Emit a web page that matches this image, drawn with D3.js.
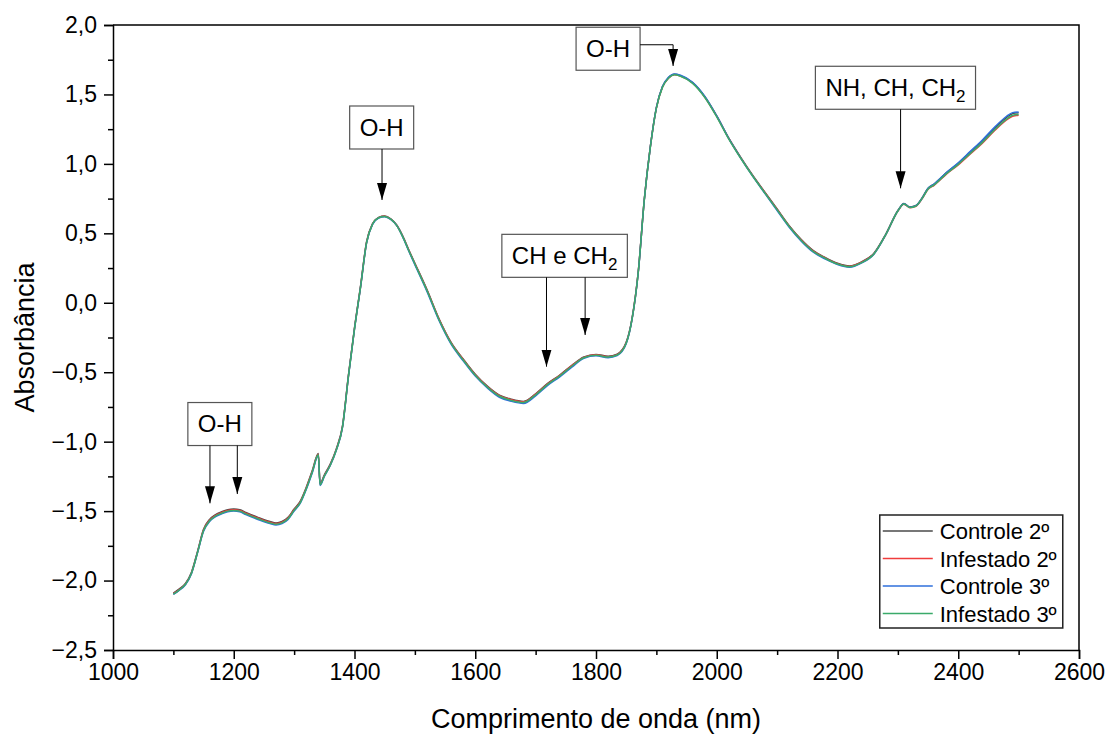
<!DOCTYPE html>
<html>
<head>
<meta charset="utf-8">
<script src="https://cdn.jsdelivr.net/npm/d3@7"></script>
<style>
  body { margin: 0; background: #fff; }
  svg { font-family: Arial, "Liberation Sans", sans-serif; }
</style>
</head>
<body>
<div id="canvas"></div>
<script>
// wavelength (nm)
const wl = [
  1100,1110,1120,1130,1140,1150,1160,1170,1180,1190,
  1200,1210,1220,1240,1260,1270,1280,1290,1300,1310,
  1320,1330,1340,1343,1350,1360,1370,1380,1390,1400,
  1410,1420,1430,1440,1450,1460,1470,1480,1490,1500,
  1520,1540,1560,1580,1600,1620,1640,1660,1680,1700,
  1720,1740,1760,1780,1800,1820,1835,1850,1860,1870,
  1880,1890,1900,1910,1920,1930,1940,1960,1980,2000,
  2020,2040,2060,2080,2100,2120,2140,2160,2180,2200,
  2220,2240,2260,2280,2300,2310,2320,2330,2340,2350,
  2360,2380,2400,2420,2440,2460,2480,2490,2500
];

const controle2 = [
  -2.09,-2.06,-2.02,-1.94,-1.79,-1.63,-1.56,-1.525,-1.505,-1.49,
  -1.485,-1.49,-1.51,-1.545,-1.575,-1.585,-1.575,-1.545,-1.485,-1.43,
  -1.33,-1.21,-1.085,-1.30,-1.24,-1.16,-1.05,-0.89,-0.52,-0.18,
  0.12,0.44,0.57,0.615,0.625,0.605,0.56,0.48,0.38,0.285,
  0.095,-0.115,-0.285,-0.405,-0.515,-0.60,-0.665,-0.695,-0.71,-0.655,
  -0.58,-0.52,-0.45,-0.39,-0.372,-0.385,-0.37,-0.285,-0.105,0.225,
  0.745,1.125,1.405,1.555,1.62,1.645,1.635,1.585,1.485,1.345,
  1.185,1.045,0.915,0.795,0.675,0.555,0.455,0.375,0.325,0.285,
  0.265,0.295,0.355,0.495,0.665,0.715,0.69,0.70,0.755,0.825,
  0.855,0.935,1.005,1.085,1.165,1.255,1.335,1.362,1.368
];

const infestado2 = [
  -2.095,-2.065,-2.025,-1.945,-1.795,-1.635,-1.565,-1.53,-1.51,-1.495,
  -1.49,-1.495,-1.515,-1.55,-1.58,-1.59,-1.58,-1.55,-1.49,-1.435,
  -1.335,-1.215,-1.09,-1.305,-1.245,-1.165,-1.055,-0.895,-0.525,-0.185,
  0.115,0.435,0.568,0.613,0.623,0.603,0.557,0.477,0.377,0.282,
  0.092,-0.118,-0.288,-0.408,-0.518,-0.603,-0.668,-0.698,-0.713,-0.658,
  -0.583,-0.523,-0.453,-0.393,-0.375,-0.388,-0.373,-0.288,-0.108,0.222,
  0.742,1.122,1.402,1.552,1.617,1.642,1.632,1.582,1.482,1.342,
  1.182,1.042,0.912,0.792,0.672,0.552,0.452,0.372,0.322,0.282,
  0.262,0.292,0.352,0.49,0.66,0.71,0.685,0.695,0.748,0.818,
  0.846,0.925,0.993,1.071,1.149,1.238,1.316,1.343,1.350
];

const controle3 = [
  -2.10,-2.07,-2.03,-1.95,-1.80,-1.645,-1.575,-1.54,-1.52,-1.505,
  -1.50,-1.505,-1.525,-1.56,-1.59,-1.60,-1.59,-1.56,-1.50,-1.445,
  -1.345,-1.225,-1.10,-1.315,-1.25,-1.17,-1.06,-0.90,-0.53,-0.19,
  0.11,0.43,0.565,0.61,0.62,0.60,0.555,0.473,0.371,0.274,
  0.082,-0.128,-0.298,-0.418,-0.528,-0.613,-0.68,-0.71,-0.725,-0.67,
  -0.595,-0.533,-0.463,-0.40,-0.382,-0.395,-0.38,-0.295,-0.113,0.218,
  0.74,1.122,1.405,1.557,1.623,1.648,1.638,1.588,1.488,1.345,
  1.182,1.04,0.908,0.786,0.664,0.544,0.444,0.364,0.314,0.275,
  0.256,0.287,0.348,0.49,0.662,0.713,0.688,0.699,0.752,0.824,
  0.855,0.936,1.008,1.09,1.172,1.263,1.343,1.369,1.374
];

const infestado3 = [
  -2.098,-2.067,-2.027,-1.947,-1.798,-1.64,-1.57,-1.535,-1.515,-1.50,
  -1.495,-1.50,-1.52,-1.555,-1.585,-1.595,-1.585,-1.555,-1.495,-1.44,
  -1.34,-1.22,-1.095,-1.31,-1.248,-1.168,-1.058,-0.898,-0.528,-0.188,
  0.113,0.433,0.567,0.612,0.622,0.602,0.556,0.475,0.375,0.279,
  0.088,-0.122,-0.292,-0.412,-0.522,-0.607,-0.673,-0.703,-0.718,-0.663,
  -0.588,-0.527,-0.457,-0.396,-0.378,-0.391,-0.376,-0.291,-0.11,0.22,
  0.742,1.121,1.401,1.551,1.616,1.641,1.631,1.58,1.48,1.339,
  1.179,1.039,0.909,0.789,0.669,0.549,0.449,0.369,0.319,0.279,
  0.259,0.289,0.35,0.491,0.661,0.711,0.686,0.697,0.75,0.82,
  0.849,0.928,0.997,1.076,1.155,1.244,1.323,1.35,1.356
];

const seriesNames = ["Controle 2º", "Infestado 2º", "Controle 3º", "Infestado 3º"];
const seriesValues = [controle2, infestado2, controle3, infestado3];
const seriesColors = ["#4a4a4a", "#f03c3c", "#2f6fdb", "#3aaa6a"];

const xTicks = [1000, 1200, 1400, 1600, 1800, 2000, 2200, 2400, 2600];
const yTicks = [-2.5, -2.0, -1.5, -1.0, -0.5, 0.0, 0.5, 1.0, 1.5, 2.0];

// annotation labels: box centre (nm, abs) and arrow targets (nm, tip abs)
const annLabels = ["O-H", "O-H", "CH e CH|2", "O-H", "NH, CH, CH|2"];
const annBoxX = [1177, 1445, 1748, 1820, 2296];
const annBoxY = [-0.873, 1.262, 0.338, 1.829, 1.548];
const annArrows = [
  [[1160.6, -1.444], [1205.9, -1.377]],
  [[1445.6, 0.74]],
  [[1718, -0.46], [1782, -0.232]],
  [[1927.7, 1.705]],
  [[2304.5, 0.824]]
];

function drawChart() {
  const width = 1107, height = 737;
  const margin = { top: 25, left: 113, bottom: 87, right: 28 };
  const iwidth = width - margin.left - margin.right;
  const iheight = height - margin.top - margin.bottom;

  const svg = d3.select("#canvas").append("svg")
    .attr("width", width).attr("height", height);

  svg.append("defs").append("marker")
    .attr("id", "arrow")
    .attr("viewBox", "0 0 17 20")
    .attr("refX", 17).attr("refY", 10)
    .attr("markerWidth", 17).attr("markerHeight", 20)
    .attr("markerUnits", "userSpaceOnUse")
    .attr("orient", "auto")
    .append("path").attr("d", "M0,5 L17,10 L0,15 Z").attr("fill", "#000");

  const g = svg.append("g").attr("transform", `translate(${margin.left},${margin.top})`);

  const x = d3.scaleLinear().domain([1000, 2600]).range([0, iwidth]);
  const y = d3.scaleLinear().domain([-2.5, 2.0]).range([iheight, 0]);

  const fmtY = (d) => d3.format(".1f")(d).replace(".", ",").replace("-", "\u2212");

  // minor ticks
  const xMinor = d3.range(1100, 2600, 200);
  const yMinor = d3.range(-2.25, 2.0, 0.5);

  const xAxis = g.append("g").attr("transform", `translate(0,${iheight})`)
    .call(d3.axisBottom(x).tickValues(xTicks).tickFormat(d3.format("d")).tickSize(9).tickPadding(5));
  g.append("g").attr("transform", `translate(0,${iheight})`)
    .call(d3.axisBottom(x).tickValues(xMinor).tickFormat("").tickSize(5))
    .select(".domain").remove();

  const yAxis = g.append("g")
    .call(d3.axisLeft(y).tickValues(yTicks).tickFormat(fmtY).tickSize(9).tickPadding(7));
  g.append("g")
    .call(d3.axisLeft(y).tickValues(yMinor).tickFormat("").tickSize(5))
    .select(".domain").remove();

  g.selectAll(".tick line").attr("stroke", "#000").attr("stroke-width", 1.5);
  g.selectAll(".domain").attr("stroke", "#000").attr("stroke-width", 1.5);
  xAxis.selectAll("text").attr("font-size", 23).attr("fill", "#000");
  yAxis.selectAll("text").attr("font-size", 23).attr("fill", "#000");

  // top and right border
  g.append("path")
    .attr("d", `M0,0 H${iwidth} V${iheight}`)
    .attr("fill", "none").attr("stroke", "#000").attr("stroke-width", 1.5);

  // lines
  const line = d3.line()
    .x((d, i) => x(wl[i]))
    .y((d) => y(d))
    .curve(d3.curveMonotoneX);

  seriesValues.forEach((vals, k) => {
    g.append("path")
      .datum(vals)
      .attr("d", line)
      .attr("fill", "none")
      .attr("stroke", seriesColors[k])
      .attr("stroke-width", 1.5);
  });

  // annotations
  annLabels.forEach((lab, i) => {
    const cx = x(annBoxX[i]), cy = y(annBoxY[i]);
    const ag = g.append("g");
    const parts = lab.split("|");
    const t = ag.append("text")
      .attr("x", cx).attr("y", cy + 8)
      .attr("text-anchor", "middle")
      .attr("font-size", 24);
    t.append("tspan").text(parts[0]);
    if (parts[1]) {
      t.append("tspan").attr("font-size", 17).attr("dy", 6).text(parts[1]);
    }
    const bb = t.node().getBBox();
    const bw = bb.width + 20, bh = 43;
    ag.insert("rect", "text")
      .attr("x", cx - bw / 2).attr("y", cy - bh / 2)
      .attr("width", bw).attr("height", bh)
      .attr("fill", "#fff").attr("stroke", "#555").attr("stroke-width", 1.2);

    annArrows[i].forEach((a) => {
      const ax = x(a[0]), ay = y(a[1]);
      let d;
      if (i === 3) {
        const sy = cy - 4;
        d = `M${cx + bw / 2},${sy} H${ax} V${ay}`;
      } else {
        d = `M${ax},${cy + bh / 2} V${ay}`;
      }
      ag.append("path").attr("d", d)
        .attr("fill", "none").attr("stroke", "#000").attr("stroke-width", 1)
        .attr("marker-end", "url(#arrow)");
    });
  });

  // legend
  const lg = g.append("g").attr("transform", `translate(${x(2270)},${y(-1.528)})`);
  const lgW = 183, lgH = 113;
  lg.append("rect").attr("x", 0).attr("y", 0).attr("width", lgW).attr("height", lgH)
    .attr("fill", "#fff").attr("stroke", "#222").attr("stroke-width", 1.5);
  seriesNames.forEach((n, k) => {
    const ry = 16 + k * 27.5;
    lg.append("line").attr("x1", 3).attr("x2", 53).attr("y1", ry).attr("y2", ry)
      .attr("stroke", seriesColors[k]).attr("stroke-width", 1.5);
    lg.append("text").attr("x", 60).attr("y", ry + 8).attr("font-size", 22).text(n);
  });

  // axis titles
  svg.append("text")
    .attr("x", margin.left + iwidth / 2).attr("y", 728)
    .attr("text-anchor", "middle").attr("font-size", 27)
    .text("Comprimento de onda (nm)");
  svg.append("text")
    .attr("transform", `translate(34,${margin.top + iheight / 2}) rotate(-90)`)
    .attr("text-anchor", "middle").attr("font-size", 27)
    .text("Absorbância");
}

drawChart();
</script>
</body>
</html>
